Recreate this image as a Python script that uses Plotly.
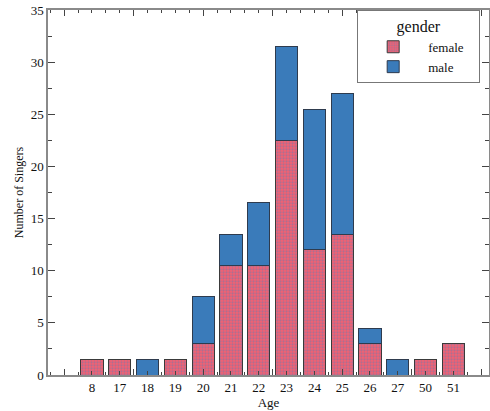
import plotly.graph_objects as go

ages = ["8", "17", "18", "19", "20", "21", "22", "23", "24", "25", "26", "27", "50", "51"]
female = [1.5, 1.5, None, 1.5, 3, 10.5, 10.5, 22.5, 12, 13.5, 3, None, 1.5, 3]
male = [None, None, 1.5, None, 4.5, 3, 6, 9, 13.5, 13.5, 1.5, 1.5, None, None]

pos = list(range(len(ages)))
major_x = [-1, 1.5, 4, 6.5, 9, 11.5, 14]
minor_x = [i * 0.5 for i in range(-3, 29)]

serif = "Liberation Serif"
axcol = "#8a8a8a"
pad = "\u00a0\u00a0\u00a0"

fig = go.Figure()
fig.add_trace(go.Bar(
    x=pos, y=female, name="female" + pad, width=0.8,
    marker=dict(color="#f5606f", line=dict(color="#3a3a3a", width=1),
                pattern=dict(shape=".", fgcolor="#6a7cb2", size=3, solidity=0.45)),
))
fig.add_trace(go.Bar(
    x=pos, y=male, name="male", width=0.8,
    marker=dict(color="#3a7bba", line=dict(color="#2e3b4e", width=1)),
))
fig.add_trace(go.Scatter(x=[0], y=[0], xaxis="x2", showlegend=False,
                         mode="markers", marker=dict(opacity=0), hoverinfo="skip"))
fig.add_trace(go.Scatter(x=[0], y=[0], xaxis="x3", showlegend=False,
                         mode="markers", marker=dict(opacity=0), hoverinfo="skip"))

xr = [-1.58, 14.28]
fig.update_layout(
    barmode="stack",
    width=490, height=411,
    margin=dict(l=48, r=1, t=10, b=36),
    paper_bgcolor="white", plot_bgcolor="white",
    font=dict(family=serif, size=13, color="#111111"),
    xaxis=dict(
        range=xr, tickmode="array", tickvals=pos, ticktext=ages,
        ticks="inside", ticklen=4, tickcolor="#444", tickwidth=1,
        showline=True, linecolor=axcol, linewidth=1.5,
        showgrid=False, zeroline=False, automargin=False,
        minor=dict(tickmode="array", tickvals=minor_x, ticks="inside", ticklen=3, tickcolor="#444"),
        title=dict(text="Age", font=dict(family=serif, size=13), standoff=2),
        tickfont=dict(family=serif, size=13),
    ),
    xaxis2=dict(
        range=xr, overlaying="x", side="top", tickmode="array", tickvals=major_x,
        showticklabels=False, ticks="inside", ticklen=6, tickcolor="#444", automargin=False,
        showline=True, linecolor=axcol, linewidth=1.5, showgrid=False, zeroline=False,
        minor=dict(tickmode="array", tickvals=minor_x, ticks="inside", ticklen=3, tickcolor="#444"),
    ),
    xaxis3=dict(
        range=xr, overlaying="x", side="bottom", tickmode="array", tickvals=major_x,
        showticklabels=False, ticks="inside", ticklen=6, tickcolor="#444", automargin=False,
        showline=False, showgrid=False, zeroline=False,
    ),
    yaxis=dict(
        range=[0, 35], tickmode="array", tickvals=[0, 5, 10, 15, 20, 25, 30, 35],
        ticks="inside", ticklen=7, tickcolor="#444",
        showline=True, linecolor=axcol, linewidth=1.5, mirror="ticks",
        showgrid=False, zeroline=False, automargin=False,
        minor=dict(tickmode="array", tickvals=[2.5, 7.5, 12.5, 17.5, 22.5, 27.5, 32.5],
                   ticks="inside", ticklen=4, tickcolor="#444"),
        title=dict(text="Number of Singers", font=dict(family=serif, size=12), standoff=4),
        tickfont=dict(family=serif, size=13),
    ),
    legend=dict(
        x=0.98, y=1.0, xanchor="right", yanchor="top",
        bgcolor="white", bordercolor="#777", borderwidth=1,
        title=dict(text="gender", side="top center", font=dict(family=serif, size=16)),
        font=dict(family=serif, size=13), traceorder="normal",
        itemwidth=60, tracegroupgap=0,
    ),
    bargap=0.2,
)

fig.write_html("out.html", config={"displayModeBar": False},
               post_script="document.body.style.margin='0';")
